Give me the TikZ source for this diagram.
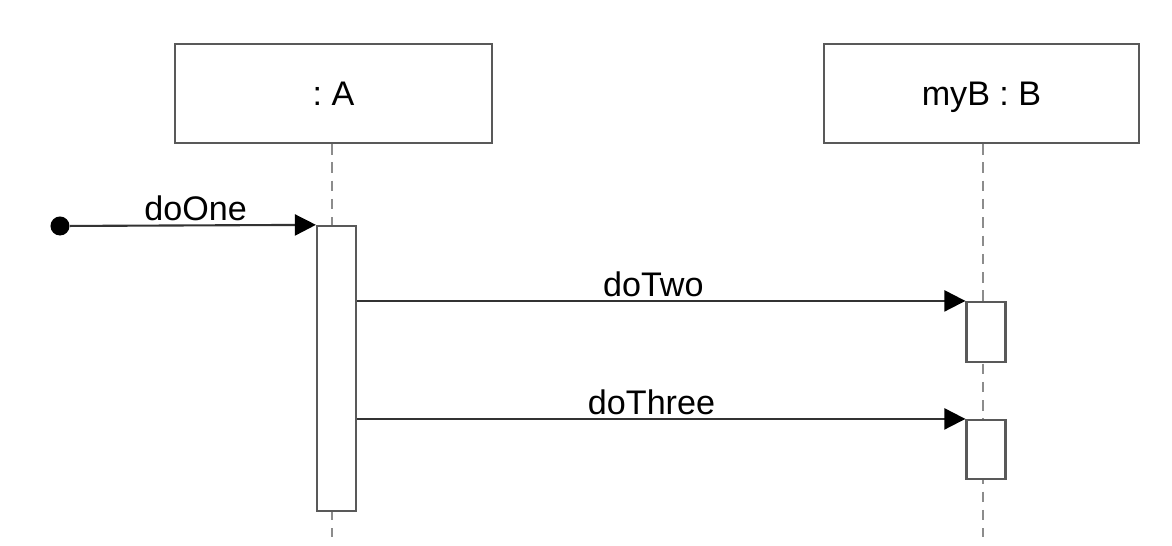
\documentclass[tikz,border=0pt]{standalone}
\usepackage{fontspec}
\setmainfont{Liberation Sans}
\usetikzlibrary{arrows.meta}
\begin{document}
\frenchspacing
\begin{tikzpicture}[x=0.01cm,y=-0.01cm,
  every node/.style={font=\fontsize{9.7}{11.6}\selectfont},
  objbox/.style={draw=black!65, line width=0.6pt, fill=white, rectangle, inner sep=0pt, text height=7pt, text depth=0pt},
  actbox/.style={draw=black!65, line width=0.6pt, fill=white, rectangle, inner sep=0pt, minimum width=0.39cm},
  lifeline/.style={draw=black!45, line width=0.6pt, dash pattern=on 3pt off 2.2pt},
  msg/.style={draw=black!80, line width=0.6pt, -{Triangle[length=6pt,width=6pt,color=black]}},
  msglabel/.style={above, inner sep=0.9pt},
  startdot/.style={circle, fill=black, inner sep=0pt, minimum size=0.19cm}
]
\useasboundingbox (0,0) rectangle (1172,546);
% objects
\node[objbox, minimum width=3.17cm, minimum height=0.99cm] (A) at (333.5,93.5) {: A};
\node[objbox, minimum width=3.15cm, minimum height=0.99cm] (B) at (981.5,93.5) {myB : B};
% lifelines
\coordinate (Aend) at (332,537);
\coordinate (Bend) at (983,537);
\draw[lifeline] (A.south -| Aend) -- (Aend);
\draw[lifeline] (B.south -| Bend) -- (Bend);
% activations
\node[actbox, minimum height=2.85cm] (actA) at (336.5,368.5) {};
\node[actbox, minimum height=0.60cm] (actB1) at (986,332) {};
\node[actbox, minimum height=0.59cm] (actB2) at (986,449.5) {};
% messages
\node[startdot] (start) at (60,226) {};
\draw[msg] (start) -- (actA.north west) node[msglabel, pos=0.51] {doOne};
\draw[msg] (actA.east |- actB1.north) -- (actB1.north west) node[msglabel, pos=0.487] {doTwo};
\draw[msg] (actA.east |- actB2.north) -- (actB2.north west) node[msglabel, pos=0.484] {doThree};
\end{tikzpicture}
\end{document}
